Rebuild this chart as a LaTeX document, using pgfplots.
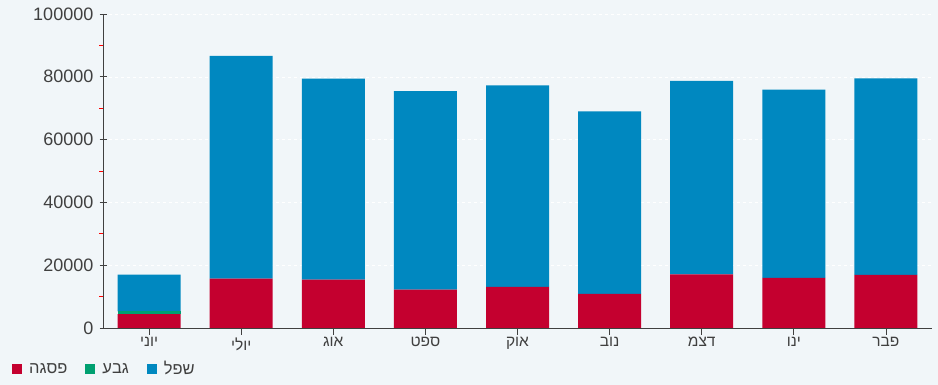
\documentclass[border=0pt]{standalone}
\usepackage{fontspec}
\setmainfont{Liberation Sans}
\usepackage{pgfplots}
\pgfplotsset{compat=1.18}
\TeXXeTstate=1
\newcommand\heb[1]{\beginR #1\endR}
\definecolor{cred}{HTML}{C4002F}
\definecolor{cgreen}{HTML}{00A071}
\definecolor{cblue}{HTML}{0088C0}
\definecolor{bg}{HTML}{F1F6F9}
\definecolor{txt}{HTML}{404040}
\begin{document}
\begin{tikzpicture}
\fill[bg] (0,0) rectangle (938bp,385bp);
\begin{axis}[
  at={(149.06bp,57bp)}, anchor=origin,
  scale only axis, width=829bp, height=314bp,
  ybar stacked, bar width=63bp,
  xmin=-0.5, xmax=8.5, ymin=0, ymax=100000,
  axis x line*=bottom, axis y line*=left,
  axis line style={-, color=txt, line width=0.9bp},
  xtick=data,
  xticklabels={\heb{יוני},\heb{יולי},\heb{אוג},\heb{ספט},\heb{אוק},\heb{נוב},\heb{דצמ},\heb{ינו},\heb{פבר}},
  ytick={0,20000,40000,60000,80000,100000},
  yticklabels={0,20000,40000,60000,80000,100000},
  scaled y ticks=false,
  yticklabel style={font=\fontsize{18bp}{20bp}\selectfont, text=txt, inner xsep=6bp},
  xticklabel style={font=\fontsize{15.5bp}{18bp}\selectfont, text=txt, yshift=1bp},
  ytick align=center, major tick length=7bp,
  xtick align=outside,
  major tick style={color=txt, line width=0.9bp},
  extra y ticks={10000,30000,50000,70000,90000},
  extra y tick labels={,,,,},
  extra y tick style={tick align=outside, major tick length=4bp, grid=none,
    major tick style={draw=red, line width=0.9bp}},
  ymajorgrids, grid style={white, dashed, line width=0.5bp},
  legend columns=3,
  legend style={at={(-0.1098,-0.1306)}, anchor=west, draw=none, fill=none, inner sep=0pt,
    font=\fontsize{16.5bp}{18bp}\selectfont, text=txt,
    /tikz/every odd column/.append style={column sep=5bp},
    /tikz/every even column/.append style={column sep=16bp}},
  legend image code/.code={\fill[#1] (0bp,-5bp) rectangle (10bp,5bp);},
]
\addplot[fill=cred, draw=none] coordinates {(0,4400) (1,15700) (2,15400) (3,12200) (4,13100) (5,10900) (6,17100) (7,16000) (8,16900)};
\addplot[fill=cgreen, draw=none] coordinates {(0,900) (1,0) (2,0) (3,0) (4,0) (5,0) (6,0) (7,0) (8,0)};
\addplot[fill=cblue, draw=none] coordinates {(0,11700) (1,71000) (2,64000) (3,63200) (4,64200) (5,58100) (6,61600) (7,59900) (8,62600)};
\legend{\heb{פסגה},\heb{גבע},\heb{שפל}}
\end{axis}
\pgfresetboundingbox
\useasboundingbox (0,0) rectangle (938bp,385bp);
\end{tikzpicture}
\end{document}
